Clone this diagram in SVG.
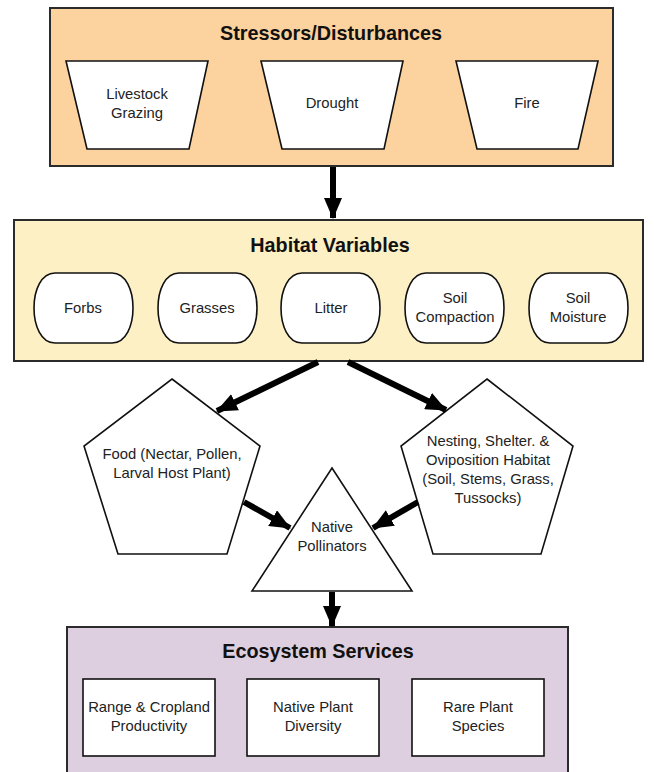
<svg xmlns="http://www.w3.org/2000/svg" width="654" height="772" viewBox="0 0 654 772">
<style>
.grp{stroke:#2b2b2b;stroke-width:2}
.shape{fill:#fff;stroke:#111;stroke-width:1.6}
.t{font-family:"Liberation Sans",Arial,sans-serif;font-size:14.8px;fill:#222;text-anchor:middle}
.h{font-family:"Liberation Sans",Arial,sans-serif;font-size:19.8px;font-weight:bold;fill:#111;text-anchor:middle}
.arr{stroke:#000;stroke-width:6;fill:none;marker-end:url(#ah)}
</style>
<defs>
<marker id="ah" markerUnits="userSpaceOnUse" markerWidth="22" markerHeight="18" refX="20" refY="9" orient="auto">
<path d="M0,0 L21,9 L0,18 Z" fill="#000"/>
</marker>
</defs>
<rect width="654" height="772" fill="#fff"/>
<g id="stressors">
<rect class="grp" x="50" y="8" width="563" height="158" fill="#FCD39E"/>
<text class="h" x="331" y="40">Stressors/Disturbances</text>
</g>
<g id="livestock">
<path class="shape" d="M66,61 H208 L189,149 H87 Z"/>
<text class="t" x="137" y="99">Livestock</text><text class="t" x="137" y="118">Grazing</text>
</g>
<g id="drought">
<path class="shape" d="M261,61 H403 L384,149 H282 Z"/>
<text class="t" x="332" y="108">Drought</text>
</g>
<g id="fire">
<path class="shape" d="M456,61 H598 L578,149 H477 Z"/>
<text class="t" x="527" y="108">Fire</text>
</g>
<g id="habitat">
<rect class="grp" x="14" y="220" width="629" height="141" fill="#FDF0C4"/>
<text class="h" x="330" y="252">Habitat Variables</text>
</g>
<g id="forbs">
<path class="shape" d="M55,273 H112 C140,273 140,343 112,343 H55 C27,343 27,273 55,273 Z"/>
<text class="t" x="83" y="313">Forbs</text>
</g>
<g id="grasses">
<path class="shape" d="M179,273 H236 C264,273 264,343 236,343 H179 C151,343 151,273 179,273 Z"/>
<text class="t" x="207" y="313">Grasses</text>
</g>
<g id="litter">
<path class="shape" d="M302,273 H359 C387,273 387,343 359,343 H302 C274,343 274,273 302,273 Z"/>
<text class="t" x="331" y="313">Litter</text>
</g>
<g id="soil-compaction">
<path class="shape" d="M426,273 H483 C511,273 511,343 483,343 H426 C398,343 398,273 426,273 Z"/>
<text class="t" x="455" y="303">Soil</text><text class="t" x="455" y="322">Compaction</text>
</g>
<g id="soil-moisture">
<path class="shape" d="M550,273 H607 C635,273 635,343 607,343 H550 C522,343 522,273 550,273 Z"/>
<text class="t" x="578" y="303">Soil</text><text class="t" x="578" y="322">Moisture</text>
</g>
<g id="food">
<path class="shape" d="M172,379 L260,446 L227,554 H118 L84,446 Z"/>
<text class="t" x="172" y="459">Food (Nectar, Pollen,</text><text class="t" x="172" y="478">Larval Host Plant)</text>
</g>
<g id="nesting">
<path class="shape" d="M487,379 L573,446 L541,554 H433 L401,446 Z"/>
<text class="t" x="488" y="446">Nesting, Shelter. &amp;</text><text class="t" x="488" y="465">Oviposition Habitat</text><text class="t" x="488" y="484">(Soil, Stems, Grass,</text><text class="t" x="488" y="503">Tussocks)</text>
</g>
<g id="native-pollinators">
<path class="shape" d="M332,468 L412,591 H252 Z"/>
<text class="t" x="332" y="532">Native</text><text class="t" x="332" y="551">Pollinators</text>
</g>
<g id="ecosystem">
<rect class="grp" x="67" y="627" width="501" height="150" fill="#DDCFDF"/>
<text class="h" x="318" y="658">Ecosystem Services</text>
</g>
<g id="range">
<rect class="shape" x="83" y="679" width="132" height="77"/>
<text class="t" x="149" y="712">Range &amp; Cropland</text><text class="t" x="149" y="731">Productivity</text>
</g>
<g id="native-plant">
<rect class="shape" x="247" y="679" width="132" height="77"/>
<text class="t" x="313" y="712">Native Plant</text><text class="t" x="313" y="731">Diversity</text>
</g>
<g id="rare-plant">
<rect class="shape" x="412" y="679" width="132" height="77"/>
<text class="t" x="478" y="712">Rare Plant</text><text class="t" x="478" y="731">Species</text>
</g>
<g id="connectors">
<line class="arr" x1="333" y1="167" x2="333" y2="218"/>
<line class="arr" x1="318" y1="362" x2="217" y2="411"/>
<line class="arr" x1="348" y1="362" x2="446" y2="410"/>
<line class="arr" x1="244" y1="502" x2="290" y2="528"/>
<line class="arr" x1="418" y1="502" x2="373" y2="528"/>
<line class="arr" x1="332" y1="592" x2="332" y2="626"/>
</g>
</svg>
